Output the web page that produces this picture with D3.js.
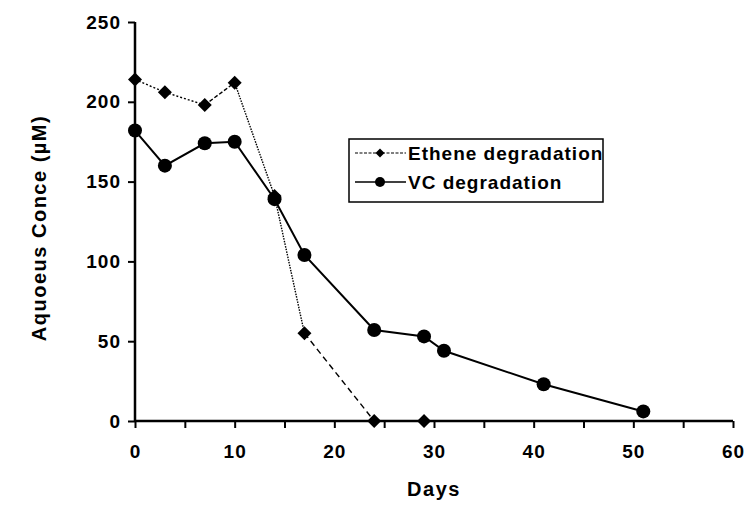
<!doctype html>
<html lang="en">
<head>
    <meta charset="utf-8">
    <title>Ethene and VC degradation</title>
    <script src="https://cdnjs.cloudflare.com/ajax/libs/d3/7.8.5/d3.min.js"></script>
    <style>
        body { margin: 0; background: #fff; }
        svg text {
            font-family: "Liberation Sans", Arial, sans-serif;
            font-weight: bold;
            fill: #000;
        }
        .axis path, .axis line { stroke: #000; }
        .axis path { stroke-width: 2.5; }
        .axis line { stroke-width: 2; }
        .axis text { font-size: 19px; letter-spacing: 1px; }
    </style>
</head>
<body>
    <div id="chart"></div>
    <script>
        // data
        var etheneDays = [0, 3, 7, 10, 14, 17, 24, 29];
        var etheneValues = [214, 206, 198, 212, 141, 55, 0, 0];
        var vcDays = [0, 3, 7, 10, 14, 17, 24, 29, 31, 41, 51];
        var vcValues = [182, 160, 174, 175, 139, 104, 57, 53, 44, 23, 6];
        var xTicks = [0, 5, 10, 15, 20, 25, 30, 35, 40, 45, 50, 55, 60];
        var yTicks = [0, 50, 100, 150, 200, 250];
        var seriesNames = ["Ethene degradation", "VC degradation"];

        // dash pattern of each ethene segment (the scan mixes dashes and dots)
        var etheneDash = ["2,2", "2,2", "4,2", "1.5,1.2", "1.5,1.2", "6,4", null];

        var width = 748, height = 507;

        var svg = d3.select("#chart")
            .append("svg")
              .attr("width", width)
              .attr("height", height);

        var x = d3.scaleLinear().domain([0, 60]).range([135, 733]);
        var y = d3.scaleLinear().domain([0, 250]).range([421, 22]);

        // axes
        svg.append("g")
            .attr("class", "x axis")
            .attr("transform", "translate(0," + y(0) + ")")
            .call(d3.axisBottom(x)
                .tickValues(xTicks)
                .tickSize(7)
                .tickPadding(17)
                .tickFormat(function(d) { return d % 10 === 0 ? d : ""; }));

        svg.append("g")
            .attr("class", "y axis")
            .attr("transform", "translate(" + x(0) + ",0)")
            .call(d3.axisLeft(y)
                .tickValues(yTicks)
                .tickSize(7)
                .tickPadding(7));

        svg.selectAll(".axis .domain").attr("d", function() {
            return d3.select(this.parentNode).classed("x")
                ? "M" + x(0) + ",0H" + x(60)
                : "M0," + y(0) + "V" + y(250);
        });

        // axis titles
        svg.append("text")
            .attr("x", (x(0) + x(60)) / 2)
            .attr("y", 496)
            .attr("text-anchor", "middle")
            .style("font-size", "20px")
            .style("letter-spacing", "1.5px")
            .text("Days");

        svg.append("text")
            .attr("transform", "translate(46," + 228 + ") rotate(-90)")
            .attr("text-anchor", "middle")
            .style("font-size", "20px")
            .style("letter-spacing", "1.5px")
            .text("Aquoeus Conce (\u00b5M)");

        var ethene = etheneDays.map(function(d, i) { return { day: d, value: etheneValues[i] }; });
        var vc = vcDays.map(function(d, i) { return { day: d, value: vcValues[i] }; });

        function diamond(s) {
            return "M0," + (-s) + "L" + s + ",0L0," + s + "L" + (-s) + ",0Z";
        }

        // ethene line, one segment at a time
        svg.append("g").selectAll("line")
            .data(d3.pairs(ethene))
            .enter()
            .append("line")
              .attr("x1", function(p) { return x(p[0].day); })
              .attr("y1", function(p) { return y(p[0].value); })
              .attr("x2", function(p) { return x(p[1].day); })
              .attr("y2", function(p) { return y(p[1].value); })
              .attr("stroke", "#000")
              .attr("stroke-width", 1.4)
              .attr("stroke-dasharray", function(p, i) { return etheneDash[i]; });

        // VC line
        svg.append("path")
            .datum(vc)
            .attr("fill", "none")
            .attr("stroke", "#000")
            .attr("stroke-width", 2)
            .attr("d", d3.line()
                .x(function(d) { return x(d.day); })
                .y(function(d) { return y(d.value); }));

        svg.append("g").selectAll("path")
            .data(ethene)
            .enter()
            .append("path")
              .attr("transform", function(d) { return "translate(" + x(d.day) + "," + y(d.value) + ")"; })
              .attr("d", diamond(7))
              .attr("fill", "#000");

        svg.append("g").selectAll("circle")
            .data(vc)
            .enter()
            .append("circle")
              .attr("cx", function(d) { return x(d.day); })
              .attr("cy", function(d) { return y(d.value); })
              .attr("r", 7)
              .attr("fill", "#000");

        // legend
        var legend = svg.append("g").attr("transform", "translate(349,139)");
        legend.append("rect")
            .attr("width", 254)
            .attr("height", 63)
            .attr("fill", "#fff")
            .attr("stroke", "#000")
            .attr("stroke-width", 1.5);

        var rows = legend.selectAll("g.row")
            .data(seriesNames)
            .enter()
            .append("g")
              .attr("class", "row")
              .attr("transform", function(d, i) { return "translate(0," + (14 + i * 29) + ")"; });

        rows.append("line")
            .attr("x1", 6).attr("x2", 57)
            .attr("stroke", "#000")
            .attr("stroke-width", function(d, i) { return i === 0 ? 1.2 : 1.6; })
            .attr("stroke-dasharray", function(d, i) { return i === 0 ? "3,1.5" : null; });

        rows.filter(function(d, i) { return i === 0; })
            .append("path")
              .attr("transform", "translate(31,0)")
              .attr("d", diamond(4.5));

        rows.filter(function(d, i) { return i === 1; })
            .append("circle")
              .attr("cx", 31)
              .attr("r", 5);

        rows.append("text")
            .attr("x", 59)
            .attr("dy", "0.36em")
            .style("font-size", "19px")
            .style("letter-spacing", "1px")
            .text(function(d) { return d; });
    </script>
</body>
</html>
